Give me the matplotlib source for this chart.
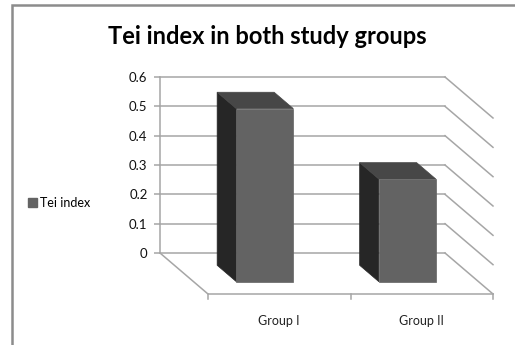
import matplotlib
matplotlib.use('Agg')
import matplotlib.pyplot as plt
from matplotlib.patches import Polygon, Patch, Rectangle

# data
groups = ['Group I', 'Group II']
tei = [0.59, 0.35]
yticks = [0, 0.1, 0.2, 0.3, 0.4, 0.5, 0.6]
series_name = 'Tei index'
title = 'Tei index in both study groups'

plt.rcParams['font.family'] = ['Lato', 'DejaVu Sans']

W, H = 515, 345
fig = plt.figure(figsize=(W / 100, H / 100), dpi=100)
fig.patch.set_facecolor('white')

# back wall area in pixels
wl, wr, wt, wb = 160, 445, 77, 253
ax = fig.add_axes([wl / W, (H - wb) / H, (wr - wl) / W, (wb - wt) / H])
ax.set_xlim(0, len(groups))
ax.set_ylim(0, 0.6)
ax.patch.set_alpha(0)

# depth vector (oblique view), converted from pixels to data units
DX = 48 / (wr - wl) * len(groups)
DY = -41 / (wb - wt) * 0.6


def proj(x, v, d):
    return (x + d * DX, v + d * DY)


grid_c = '#a6a6a6'
n = len(groups)
for g in yticks:
    ax.plot([0, n], [g, g], color=grid_c, lw=1.1, zorder=1, clip_on=False)
    p0 = proj(n, g, 0)
    p1 = proj(n, g, 1)
    ax.plot([p0[0], p1[0]], [p0[1], p1[1]], color=grid_c, lw=1.1, zorder=1, clip_on=False)

# floor
a = proj(0, 0, 0)
b = proj(0, 0, 1)
c = proj(n, 0, 1)
ax.plot([a[0], b[0], c[0]], [a[1], b[1], c[1]], color=grid_c, lw=1.1, zorder=1, clip_on=False)
tick_len = 5 / (wb - wt) * 0.6
for i in range(n + 1):
    p = proj(i, 0, 1)
    ax.plot([p[0], p[0]], [p[1], p[1] - tick_len], color=grid_c, lw=1.1, zorder=1, clip_on=False)

# bars
front_c, side_c, top_c = '#636363', '#262626', '#474747'
bw, d0, d1 = 0.4, 0.3, 0.7
for i, v in enumerate(tei):
    x0 = i + 0.5 - bw / 2
    x1 = i + 0.5 + bw / 2
    side = [proj(x0, 0, d0), proj(x0, 0, d1), proj(x0, v, d1), proj(x0, v, d0)]
    top = [proj(x0, v, d0), proj(x1, v, d0), proj(x1, v, d1), proj(x0, v, d1)]
    front = [proj(x0, 0, d1), proj(x1, 0, d1), proj(x1, v, d1), proj(x0, v, d1)]
    for pts, col in [(side, side_c), (top, top_c), (front, front_c)]:
        ax.add_patch(Polygon(pts, closed=True, facecolor=col, edgecolor=col,
                             lw=0.5, zorder=3, clip_on=False))
    lx, ly = proj(i + 0.5, 0, 1)
    ax.text(lx, ly - 27 / (wb - wt) * 0.6, groups[i], ha='center', va='center',
            fontsize=9, color='#222222')

ax.set_xticks([])
ax.set_yticks(yticks)
ax.set_yticklabels([f'{t:g}' for t in yticks], fontsize=9.5, color='#111111')
ax.tick_params(axis='y', length=4, width=1.1, color=grid_c, pad=5)
for s in ['top', 'right', 'bottom']:
    ax.spines[s].set_visible(False)
ax.spines['left'].set_color(grid_c)
ax.spines['left'].set_linewidth(1.1)

fig.text(267 / W, 1 - 37 / H, title, ha='center', va='center',
         fontsize=17, fontweight='bold', color='black')

fig.legend(handles=[Patch(facecolor=front_c, edgecolor=front_c, label=series_name)],
           loc='center left', bbox_to_anchor=(28 / W, 1 - 203 / H), frameon=False,
           borderpad=0, borderaxespad=0, handlelength=0.7, handleheight=0.7,
           handletextpad=0.25, fontsize=9)

# chart frame (cropped at right and bottom)
fig.patches.append(Rectangle((12 / W, -0.1), 1.2, 1.1 - 5 / H, transform=fig.transFigure,
                             fill=False, edgecolor='#8c8c8c', lw=1.8))

fig.savefig('out.png', dpi=100)
